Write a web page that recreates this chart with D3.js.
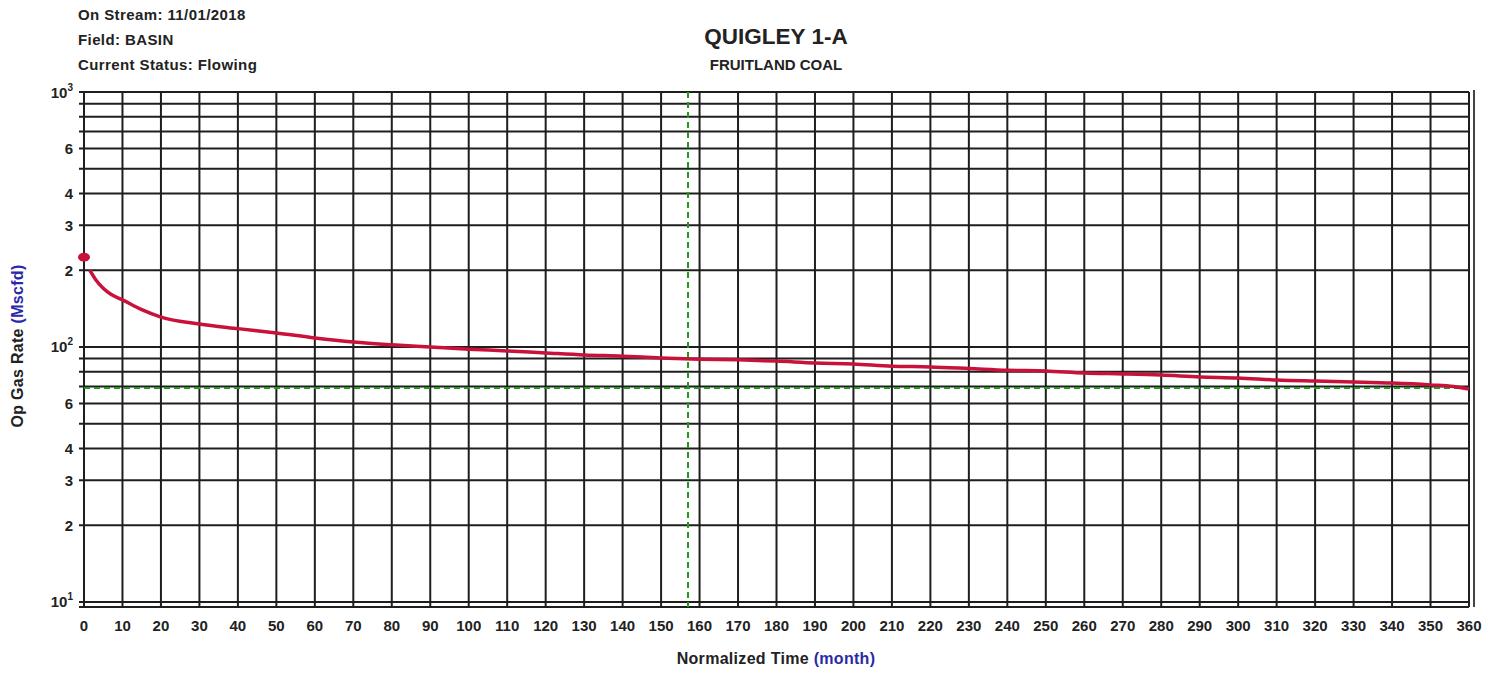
<!DOCTYPE html>
<html>
<head>
<meta charset="utf-8">
<script src="https://cdn.jsdelivr.net/npm/d3@7"></script>
<style>
  body { margin: 0; background: #fff; }
  text { font-family: "Liberation Sans", Arial, sans-serif; font-weight: bold; fill: #222; }
</style>
</head>
<body>
<div id="chart"></div>
<script>
// header info
var infoLines = ["On Stream: 11/01/2018", "Field: BASIN", "Current Status: Flowing"];
var title = "QUIGLEY 1-A";
var subtitle = "FRUITLAND COAL";

// production curve (month, Mscfd)
var months = [1.5, 3, 5, 7, 10, 15, 20, 30, 40, 50, 60, 70, 80, 90, 100, 110, 120, 130, 140, 150, 160,
              170, 180, 190, 200, 210, 220, 230, 240, 250, 260, 270, 280, 290, 300, 310, 320, 330, 340, 350, 356, 360];
var rates  = [200, 184, 170, 161, 153, 140, 131, 123, 118, 113.5, 108.5, 104.6, 102, 100, 98, 96.5, 94.7, 93, 92, 90.5, 89.5,
              89, 88, 86.5, 85.8, 84, 83.5, 82.3, 81, 80.5, 79, 78.4, 77.6, 76.3, 75.6, 74.2, 73.5, 72.9, 72.2, 71, 70, 68.4];
var firstPoint = {month: 0, rate: 225};

// reference lines
var refRate = 69;
var refMonth = 157;

// axis ticks
var xTicks = d3.range(0, 361, 10);
var yDecades = [10, 100, 1000];
var yLabelled = [2, 3, 4, 6];

var W = 1499, H = 673;
var margin = {left: 84, right: 30, top: 92, bottom: 66};
var width = 1469 - margin.left, height = 607 - margin.top;

var svg = d3.select("#chart").append("svg").attr("width", W).attr("height", H);
var g = svg.append("g").attr("transform", "translate(" + margin.left + "," + margin.top + ")");

var x = d3.scaleLinear().domain([0, 360]).range([0, width]);
var y = d3.scaleLog().domain([9.55, 1000]).range([height, 0]);

// horizontal grid values: every multiple in each decade
var yGrid = [];
[10, 100].forEach(function(d) { for (var k = 1; k < 10; k++) yGrid.push(d * k); });
yGrid.push(1000);

var gridColor = "#1e1e1e";

g.selectAll(".hgrid").data(yGrid).enter().append("line")
  .attr("x1", -5).attr("x2", width)
  .attr("y1", function(d) { return y(d); }).attr("y2", function(d) { return y(d); })
  .attr("stroke", gridColor).attr("stroke-width", 2);

g.selectAll(".vgrid").data(xTicks).enter().append("line")
  .attr("x1", function(d) { return x(d); }).attr("x2", function(d) { return x(d); })
  .attr("y1", 0).attr("y2", height)
  .attr("stroke", gridColor).attr("stroke-width", 2);

// bottom axis line and right double border
g.append("line").attr("x1", -5).attr("x2", width).attr("y1", height).attr("y2", height)
  .attr("stroke", gridColor).attr("stroke-width", 2.2);
g.append("line").attr("x1", width + 5).attr("x2", width + 5).attr("y1", -2).attr("y2", height)
  .attr("stroke", "#444").attr("stroke-width", 2);

// x tick labels
g.selectAll(".xlab").data(xTicks).enter().append("text")
  .attr("x", function(d) { return x(d); }).attr("y", height + 24)
  .attr("text-anchor", "middle").style("font-size", "15px")
  .text(function(d) { return d; });

// y tick labels
var yLabs = [];
yDecades.forEach(function(d) {
  yLabs.push({v: d, dec: true});
  if (d < 1000) yLabelled.forEach(function(k) { yLabs.push({v: d * k, dec: false}); });
});
yLabs.forEach(function(l) {
  var t = g.append("text").attr("x", -11).attr("y", y(l.v) + 5.5)
    .attr("text-anchor", "end").style("font-size", "15px");
  if (l.dec) {
    t.append("tspan").text("10");
    t.append("tspan").attr("dy", -7).style("font-size", "10px").text(Math.round(Math.log10(l.v)));
  } else {
    t.text(String(l.v).charAt(0));
  }
});

// green reference lines
var green = "#1f9a1f";
g.append("line").attr("x1", 0).attr("x2", width).attr("y1", y(refRate)).attr("y2", y(refRate))
  .attr("stroke", green).attr("stroke-width", 2).attr("stroke-dasharray", "6,4");
g.append("line").attr("x1", x(refMonth)).attr("x2", x(refMonth)).attr("y1", 0).attr("y2", height)
  .attr("stroke", green).attr("stroke-width", 2).attr("stroke-dasharray", "6,4");

// production curve
var red = "#c8123a";
var pts = months.map(function(m, i) { return [m, rates[i]]; });
var line = d3.line().x(function(d) { return x(d[0]); }).y(function(d) { return y(d[1]); })
  .curve(d3.curveMonotoneX);
g.append("path").datum(pts).attr("d", line)
  .attr("fill", "none").attr("stroke", red).attr("stroke-width", 3.5).attr("stroke-linejoin", "round");
g.append("ellipse").attr("cx", x(firstPoint.month)).attr("cy", y(firstPoint.rate))
  .attr("rx", 6).attr("ry", 4.5).attr("fill", red);

// header
svg.selectAll(".info").data(infoLines).enter().append("text")
  .attr("x", 78).attr("y", function(d, i) { return 20 + i * 25; })
  .style("font-size", "15px").style("letter-spacing", "0.4px").text(function(d) { return d; });
svg.append("text").attr("x", 776).attr("y", 44).attr("text-anchor", "middle")
  .style("font-size", "22.5px").text(title);
svg.append("text").attr("x", 776).attr("y", 70).attr("text-anchor", "middle")
  .style("font-size", "15px").text(subtitle);

// axis titles
var xt = svg.append("text").attr("x", 776).attr("y", 664).attr("text-anchor", "middle")
  .style("font-size", "16px").style("letter-spacing", "0.3px");
xt.append("tspan").text("Normalized Time  ");
xt.append("tspan").style("fill", "#2a2aa8").text("(month)");

var yt = svg.append("text").attr("transform", "translate(23,346) rotate(-90)")
  .attr("text-anchor", "middle").style("font-size", "16px").style("letter-spacing", "0.3px");
yt.append("tspan").text("Op Gas Rate  ");
yt.append("tspan").style("fill", "#2a2aa8").text("(Mscfd)");
</script>
</body>
</html>
